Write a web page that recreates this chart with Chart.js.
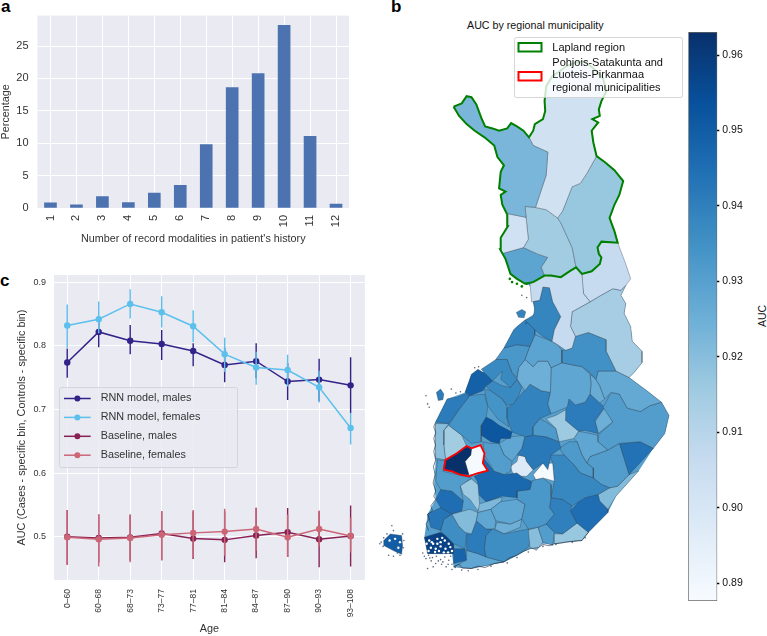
<!DOCTYPE html>
<html>
<head>
<meta charset="utf-8">
<script src="https://cdn.jsdelivr.net/npm/chart.js"></script>
<style>
body { margin: 0; background: #fff; width: 767px; height: 636px; overflow: hidden; position: relative; font-family: "Liberation Sans", Arial, sans-serif; color: #111; }
canvas { position: absolute; }
.panel { position: absolute; font-weight: bold; font-size: 17px; line-height: 20px; color: #000; }
.maptitle { position: absolute; left: 467px; top: 19px; font-size: 10.7px; line-height: 12px; white-space: nowrap; }
.cbtitle { position: absolute; left: 742px; top: 310px; width: 40px; text-align: center; font-size: 10.5px; line-height: 12px; transform: rotate(-90deg); }
</style>
</head>
<body>
<div class="panel" style="left:1px;top:-3px">a</div>
<div class="panel" style="left:391px;top:-3px">b</div>
<div class="panel" style="left:0;top:271px">c</div>
<div class="maptitle">AUC by regional municipality</div>
<div class="cbtitle">AUC</div>
<canvas id="barChart" width="360" height="246" style="left:0;top:0"></canvas>
<canvas id="ageChart" width="370" height="376" style="left:0;top:260px"></canvas>
<canvas id="mapChart" width="316" height="636" style="left:370px;top:0"></canvas>
<canvas id="cbChart" width="87" height="636" style="left:680px;top:0"></canvas>
<script>
// panel a
const modalities = ['1', '2', '3', '4', '5', '6', '7', '8', '9', '10', '11', '12'];
const percentages = [0.8, 0.5, 1.76, 0.83, 2.3, 3.5, 9.8, 18.6, 20.75, 28.2, 11.05, 0.6];

// panel c
const ageBins = ['0–60', '60–68', '68–73', '73–77', '77–81', '81–84', '84–87', '87–90', '90–93', '93–108'];
const rnnMales = [0.774, 0.822, 0.808, 0.803, 0.792, 0.770, 0.776, 0.744, 0.747, 0.738];
const rnnMalesLow = [0.750, 0.798, 0.787, 0.778, 0.768, 0.743, 0.749, 0.715, 0.713, 0.694];
const rnnMalesHigh = [0.796, 0.846, 0.833, 0.825, 0.804, 0.797, 0.804, 0.773, 0.780, 0.782];
const rnnFemales = [0.832, 0.842, 0.866, 0.853, 0.831, 0.787, 0.766, 0.762, 0.735, 0.671];
const rnnFemalesLow = [0.797, 0.820, 0.843, 0.829, 0.806, 0.759, 0.739, 0.736, 0.711, 0.645];
const rnnFemalesHigh = [0.865, 0.870, 0.889, 0.878, 0.856, 0.813, 0.791, 0.786, 0.761, 0.695];
const baseMales = [0.500, 0.498, 0.499, 0.505, 0.497, 0.495, 0.502, 0.507, 0.496, 0.501];
const baseMalesLow = [0.456, 0.460, 0.462, 0.463, 0.465, 0.460, 0.466, 0.468, 0.452, 0.453];
const baseMalesHigh = [0.542, 0.535, 0.535, 0.540, 0.540, 0.540, 0.545, 0.545, 0.540, 0.549];
const baseFemales = [0.499, 0.496, 0.498, 0.503, 0.506, 0.508, 0.512, 0.499, 0.512, 0.501];
const baseFemalesLow = [0.456, 0.453, 0.460, 0.463, 0.466, 0.470, 0.478, 0.468, 0.485, 0.475];
const baseFemalesHigh = [0.542, 0.535, 0.534, 0.540, 0.542, 0.544, 0.546, 0.535, 0.541, 0.530];

// panel b, colour scale
const blues = ['#f7fbff', '#deebf7', '#c6dbef', '#9ecae1', '#6baed6', '#4292c6', '#2171b5', '#08519c', '#08306b'];
const aucMin = 0.88766, aucMax = 0.96305;
const aucTicks = [0.89, 0.90, 0.91, 0.92, 0.93, 0.94, 0.95, 0.96];

// panel b, map units, northern part
const laplandAuc = [0.9225, 0.9025, 0.917, 0.903, 0.915, 0.9285];
const laplandShapes = [
  [477,405,490,430,535,450,530,520,497,618,465,615,468,648,412,637,395,610,390,580,405,570,385,560,390,510,400,490,380,465,370,430,340,405,310,385,285,365,262,340,245,312,270,302,285,280,300,283,315,305,330,345,342,372,365,378,385,385,410,378,422,362,440,372,460,385],
  [477,405,490,385,495,365,520,350,527,325,525,295,530,250,548,220,570,205,590,190,620,178,650,175,680,200,705,225,715,265,700,295,692,320,695,340,672,350,690,360,670,385,675,420,685,462,655,515,635,545,610,555,580,630,565,650,530,625,497,618,530,520,535,450,490,430],
  [685,462,710,480,740,505,767,538,755,580,740,610,725,650,740,690,750,725,700,722,688,740,692,760,700,770,695,790,670,812,640,820,622,800,610,740,575,665,565,650,580,630,610,555,635,545,655,515],
  [412,637,468,648,475,715,460,740,395,758,388,745,390,710,412,675],
  [465,615,497,618,530,625,565,650,575,665,610,740,622,800,605,810,575,830,545,825,525,825,515,800,535,770,505,760,460,740,475,715,468,648],
  [395,758,460,740,505,760,535,770,515,800,525,825,490,845,465,850,440,835,420,820,405,775]
];
const laplandOutline = [245,312,270,302,285,280,300,283,315,305,330,345,342,372,365,378,385,385,410,378,422,362,440,372,460,385,477,405,490,385,495,365,520,350,527,325,525,295,530,250,548,220,570,205,590,190,620,178,650,175,680,200,705,225,715,265,700,295,692,320,695,340,672,350,690,360,670,385,675,420,685,462,710,480,740,505,767,538,755,580,740,610,725,650,740,690,750,725,700,722,688,740,692,760,700,770,695,790,670,812,640,820,622,800,605,810,575,830,545,825,525,825,490,845,465,850,440,835,420,820,405,775,388,745,390,710,412,675,410,640,395,610,390,580,405,570,385,560,390,510,400,490,380,465,370,430,340,405,310,385,285,365,262,340,245,312];
const laplandShift = -840;
const laplandCoastDots = [418,835,425,845,440,850,455,858,470,850];

// panel b, map units, southern part
const southAuc = [
  0.9065, 0.9065, 0.9385, 0.914, 0.939, 0.929, 0.935, 0.933, 0.937, 0.949,
  0.937, 0.925, 0.928, 0.927, 0.926, 0.931, 0.941, 0.925, 0.916, 0.932,
  0.939, 0.934, 0.934, 0.952, 0.941, 0.920, 0.915, 0.963, 0.8885, 0.931,
  0.916, 0.947, 0.931, 0.928, 0.942, 0.898, 0.8885, 0.938, 0.932, 0.928,
  0.931, 0.944, 0.921, 0.945, 0.933, 0.940, 0.917, 0.931, 0.920, 0.936,
  0.928, 0.925, 0.928, 0.922, 0.921, 0.945, 0.943, 0.936, 0.941, 0.928, 0.948,
  0.939, 0.941, 0.950, 0.958
];
const southShapes = [
  [480,10,525,-15,575,-10,605,-30,622,-40,640,-20,645,40,665,65,610,95,605,140,620,170,610,205,590,212,565,195,548,185,555,150,575,110,550,65,540,22,520,20,510,60,485,65],
  [670,-28,695,-50,700,-70,688,-100,700,-118,750,-115,775,-50,790,-5,775,15,760,30,735,25,690,50,665,65,645,40,640,0,640,-20],
  [520,20,540,22,550,65,575,105,555,150,548,185,520,170,495,150,465,120,490,110,495,85,490,65,510,60],
  [665,65,690,50,735,25,760,30,775,15,760,45,775,70,770,100,790,140,795,185,825,215,825,250,800,280,785,295,745,275,715,215,715,180,660,158,620,170,605,140,610,95],
  [440,140,465,120,495,150,495,165,480,200,440,195,400,205,430,150],
  [495,165,548,185,565,195,578,212,578,250,545,265,535,245,505,245,490,262,465,240,480,200],
  [578,212,590,212,610,205,620,170,660,158,715,180,715,215,745,275,690,275,683,300,665,280,640,262,578,250],
  [400,205,440,195,480,200,465,240,445,265,440,295,425,280,410,240,375,240],
  [330,270,375,240,410,240,425,280,440,300,420,325,390,300,395,275,365,305,345,285],
  [280,340,300,285,320,270,345,285,365,305,345,320,335,335,295,350],
  [365,305,395,320,420,325,440,300,455,325,445,350,430,375,410,380,395,360,360,335,345,322],
  [445,265,465,240,490,262,505,245,535,245,545,265,543,340,515,335,480,315,465,335,440,300],
  [545,265,578,250,640,262,665,285,668,315,665,345,650,370,620,378,600,360,595,385,570,395,545,405,535,375,543,340],
  [683,300,690,275,745,275,785,295,840,335,885,370,850,380,820,398,780,388,755,345,730,340,710,360,695,320],
  [683,300,695,320,710,360,695,372,665,345,668,315,665,285],
  [885,370,908,410,895,465,860,510,820,490,755,495,720,515,690,490,690,470,735,430,705,385,730,340,755,345,780,388,820,398,850,380],
  [600,360,620,378,650,370,665,345,695,372,710,385,680,425,690,465,650,455,630,458,590,425,590,395],
  [710,385,735,430,715,445,690,465,680,430],
  [530,420,560,410,595,390,590,425,630,458,615,480,570,490,560,450],
  [490,445,510,420,530,430,560,450,570,490,530,475,490,470],
  [410,390,440,360,480,315,515,335,543,340,535,375,545,405,510,420,490,445,490,470,465,475,425,460,410,420],
  [260,395,295,350,340,345,350,385,345,415,330,440,330,490,300,495,270,470,230,440],
  [340,330,360,335,395,360,410,385,410,420,415,445,380,420,350,380],
  [345,415,365,425,385,440,425,460,420,480,390,480,385,495,360,490,330,470,330,440],
  [190,430,215,380,225,360,255,355,280,345,295,350,260,395,230,435],
  [190,435,230,435,215,455,215,500,220,545,190,540,188,480],
  [215,455,230,440,270,470,285,503,255,525,220,545,215,500],
  [215,575,220,545,255,525,285,503,300,510,298,530,280,550,292,590,265,590,240,580],
  [300,510,328,500,340,525,335,555,350,578,320,585,292,592,280,550,298,530],
  [195,545,218,548,212,580,265,592,300,600,265,625,275,670,240,640,205,635,190,610],
  [265,622,300,603,320,620,325,680,320,700,295,665,275,650],
  [338,540,370,580,400,590,440,585,460,600,485,610,480,635,440,640,440,660,395,655,345,672,322,650,318,610,308,595,350,578,338,555],
  [335,490,360,495,385,495,400,530,425,550,420,580,400,590,370,580,340,530],
  [385,495,420,475,465,470,455,510,440,530,425,550,400,530],
  [465,475,490,470,530,475,570,490,575,510,545,530,535,575,520,555,490,575,470,550,465,535,440,530,455,510],
  [420,565,440,550,445,530,465,535,470,550,490,575,470,595,445,595,440,608,425,580],
  [490,590,520,555,550,555,555,610,520,600,498,605],
  [540,530,585,530,615,560,635,585,675,600,700,620,725,630,690,650,650,660,610,685,580,665,545,660,555,610,550,555],
  [570,510,600,490,625,490,640,530,655,555,675,570,675,600,635,585,615,560,585,530],
  [630,458,690,470,690,490,720,515,665,535,655,555,640,530,625,490,615,480],
  [665,535,720,515,755,495,785,590,750,625,725,630,700,620,675,600,675,570,655,555],
  [755,495,820,490,860,510,785,590],
  [690,650,725,630,750,625,785,590,815,578,745,655,720,695,695,670],
  [605,700,640,660,690,650,695,670,720,695,720,705,660,765,625,737],
  [440,640,480,635,487,608,498,605,520,600,545,620,545,660,540,690,555,710,530,740,505,750,475,755,455,725,465,680,440,665],
  [545,660,580,665,610,685,605,700,625,737,580,770,555,765,530,740,555,710,540,690],
  [555,770,580,770,625,737,660,765,640,790,590,795,555,800],
  [505,750,530,740,555,765,550,805,520,795],
  [475,758,505,750,520,795,500,820,480,810],
  [345,775,365,755,400,770,475,755,485,780,475,810,440,835,400,855,345,840,340,815],
  [360,695,390,672,440,665,465,680,455,725,420,740,375,730],
  [378,735,420,740,455,725,450,750,400,770,372,755],
  [320,705,360,695,375,730,372,755,345,755,315,730],
  [322,680,345,672,395,658,390,672,360,695,320,705],
  [240,710,295,695,320,705,315,730,300,770,280,765,260,745],
  [190,665,205,635,240,640,275,670,270,700,240,710,205,690],
  [165,710,205,690,240,710,215,725,205,760,175,750],
  [205,760,215,725,240,710,260,745,285,770,280,815,245,800,225,780],
  [285,770,300,770,315,730,345,755,365,755,345,775,340,815,345,840,320,830,285,820],
  [285,820,320,830,345,840,400,855,300,875,245,870,285,850],
  [245,815,280,815,285,850,245,860],
  [438,97,455,88,467,95,462,113,445,112],
  [192,340,205,330,215,345,212,362,198,365],
  [30,790,50,770,85,775,88,805,85,832,62,822,30,805],
  [155,780,205,765,245,790,245,830,165,830]
];
const southOutline = [470,10,660,-30,770,0,775,15,760,45,775,70,770,100,790,140,795,185,825,215,825,250,800,280,785,295,840,335,885,370,908,410,895,465,860,510,815,578,745,655,720,705,660,765,640,790,590,795,555,800,520,800,480,815,440,835,400,855,300,875,245,870,240,830,165,830,155,780,165,710,190,665,185,620,190,545,188,480,190,430,215,380,225,360,280,340,300,285,345,275,375,240,400,205,430,150,465,120,495,100,490,65,485,20];
const redOutline = [215,575,220,545,255,525,285,503,300,510,328,500,340,525,335,555,350,578,320,585,292,595,265,590,240,580,215,575];
const westCoast = [190,430,184,445,190,462,184,480,189,500,184,520,190,545,183,565,188,590,182,615,190,640,184,655,190,665,175,685,180,700,165,710,170,725,160,740,168,760];
const southCoast = [245,870,262,862,272,874,300,875,320,868,342,872,370,860,400,855,418,842,440,835,462,822,480,815,505,812,520,802,540,806,555,800,575,798,590,795,615,792,640,790,652,775,660,765];
const islandDots = [
  168,835,180,842,192,838,205,848,218,840,230,850,240,862,250,872,176,852,190,860,208,862,222,870,165,875,236,838,150,828,160,845,
  198,852,212,855,228,862,182,870,155,838,240,878,172,843,
  160,350,165,375,170,385,238,330,252,342,266,338,310,265,322,262,455,45,470,52,468,130,
  270,880,290,882,320,878,360,868,410,858,440,842,475,825,520,808,560,802,610,795,650,782,
  22,795,40,770,60,760,88,770,92,790,18,800,60,838,80,835,55,745,45,835,30,782,28,808,90,812,72,828
];
// white gaps between the islands of the south-west archipelago and Aland
const archipelagoGaps = [
  75,812,48,790,65,785,80,795,
  170,790,182,800,195,785,205,795,218,790,230,800,175,812,190,815,205,808,220,815,235,810,
  162,800,188,825,200,822,215,826,228,826,178,795,210,782,240,822,195,800,168,822
];

function colorFor(v) {
  const t = Math.max(0, Math.min(1, (v - aucMin) / (aucMax - aucMin))) * (blues.length - 1);
  const i = Math.min(blues.length - 2, Math.floor(t));
  const a = parseInt(blues[i].slice(1), 16), b = parseInt(blues[i + 1].slice(1), 16);
  const f = t - i;
  const mix = (s) => Math.round(((a >> s) & 255) * (1 - f) + ((b >> s) & 255) * f);
  return 'rgb(' + mix(16) + ',' + mix(8) + ',' + mix(0) + ')';
}

function toPoints(flat, dy) {
  const pts = [];
  for (let i = 0; i < flat.length; i += 2) pts.push({ x: flat[i], y: flat[i + 1] + dy });
  return pts;
}

function closed(flat, dy) {
  const pts = toPoints(flat, dy);
  pts.push(pts[0]);
  return pts;
}

function regionDataset(flat, dy, auc) {
  return {
    data: closed(flat, dy), showLine: true, fill: 'shape', backgroundColor: colorFor(auc),
    borderColor: 'rgba(50,60,70,0.6)', borderWidth: 0.6, pointRadius: 0, tension: 0, order: 3
  };
}

// grey plot background used by panels a and c
const plotBackground = {
  id: 'plotBackground',
  beforeDraw(chart) {
    const a = chart.chartArea, c = chart.ctx;
    c.save();
    c.fillStyle = '#eaeaf2';
    c.fillRect(a.left, a.top, a.right - a.left, a.bottom - a.top);
    c.restore();
  }
};

const sans = '"Liberation Sans", Arial, sans-serif';
const textGrey = '#333';

new Chart(document.getElementById('barChart'), {
  type: 'bar',
  data: { labels: modalities, datasets: [{ data: percentages, backgroundColor: '#4c72b0', barThickness: 12 }] },
  options: {
    responsive: false, animation: false,
    layout: { padding: { top: 5, right: 11 } },
    plugins: { legend: { display: false }, tooltip: { enabled: false } },
    scales: {
      x: {
        grid: { color: '#fff', lineWidth: 1, offset: false, drawTicks: false },
        border: { display: false },
        ticks: { color: textGrey, font: { family: sans, size: 11 }, minRotation: 90, maxRotation: 90, autoSkip: false, padding: 7 },
        title: { display: true, text: "Number of record modalities in patient's history", color: textGrey, font: { family: sans, size: 10.8 }, padding: { top: 1, bottom: 0 } },
        afterFit(s) { s.height = 38; }
      },
      y: {
        min: 0, max: 29.7,
        grid: { color: '#fff', lineWidth: 1, drawTicks: false },
        border: { display: false },
        ticks: { color: textGrey, font: { family: sans, size: 11 }, stepSize: 5, includeBounds: false, padding: 9 },
        title: { display: true, text: 'Percentage', color: textGrey, font: { family: sans, size: 10.8 }, padding: { top: 0, bottom: 0 } },
        afterFit(s) { s.width = 37.5; }
      }
    }
  },
  plugins: [plotBackground]
});

// error bars are one broken line per series
function errorData(low, high) {
  const pts = [];
  for (let i = 0; i < low.length; i++) {
    pts.push({ x: i, y: low[i] }, { x: i, y: high[i] }, { x: i, y: null });
  }
  return pts;
}

const ageSeries = [
  { label: 'RNN model, males', color: '#332288', values: rnnMales, low: rnnMalesLow, high: rnnMalesHigh },
  { label: 'RNN model, females', color: '#5cc0ec', values: rnnFemales, low: rnnFemalesLow, high: rnnFemalesHigh },
  { label: 'Baseline, males', color: '#882255', values: baseMales, low: baseMalesLow, high: baseMalesHigh },
  { label: 'Baseline, females', color: '#cc6677', values: baseFemales, low: baseFemalesLow, high: baseFemalesHigh }
];

const ageDatasets = [];
ageSeries.forEach((s, k) => {
  ageDatasets.push({
    data: s.values.map((v, i) => ({ x: i, y: v })), showLine: true, borderColor: s.color, backgroundColor: s.color,
    borderWidth: 1.5, pointRadius: 3.2, pointBorderWidth: 0, tension: 0, order: 8 - 2 * k
  });
  ageDatasets.push({
    data: errorData(s.low, s.high), showLine: true, borderColor: s.color, borderWidth: 1.4,
    pointRadius: 0, spanGaps: false, tension: 0, order: 9 - 2 * k
  });
});

const ageLegend = {
  id: 'ageLegend',
  afterDatasetsDraw(chart) {
    const c = chart.ctx;
    c.save();
    c.beginPath();
    c.roundRect(59.5, 127.5, 178, 80, 2);
    c.fillStyle = 'rgba(234,234,242,0.8)';
    c.fill();
    c.strokeStyle = '#d4d4dc';
    c.lineWidth = 1;
    c.stroke();
    c.textBaseline = 'middle';
    c.font = '10.8px ' + sans;
    ageSeries.forEach((s, k) => {
      const y = 138.5 + k * 18.9;
      c.strokeStyle = s.color;
      c.fillStyle = s.color;
      c.lineWidth = 1.5;
      c.beginPath();
      c.moveTo(64, y);
      c.lineTo(90.7, y);
      c.stroke();
      c.beginPath();
      c.arc(77.4, y, 3, 0, Math.PI * 2);
      c.fill();
      c.fillStyle = textGrey;
      c.fillText(s.label, 100.7, y);
    });
    c.restore();
  }
};

new Chart(document.getElementById('ageChart'), {
  type: 'scatter',
  data: { datasets: ageDatasets },
  options: {
    responsive: false, animation: false,
    layout: { padding: { top: 15, right: 3 } },
    plugins: { legend: { display: false }, tooltip: { enabled: false } },
    scales: {
      x: {
        type: 'linear', min: -0.42, max: 9.454,
        grid: { color: '#fff', lineWidth: 1, drawTicks: false },
        border: { display: false },
        ticks: {
          color: textGrey, font: { family: sans, size: 8.5 }, stepSize: 1, includeBounds: false,
          minRotation: 90, maxRotation: 90, autoSkip: false, padding: 9,
          callback: (v) => ageBins[v]
        },
        title: { display: true, text: 'Age', color: textGrey, font: { family: sans, size: 10.8 }, padding: { top: 0, bottom: 0 } },
        afterFit(s) { s.height = 56; }
      },
      y: {
        min: 0.4319, max: 0.9115,
        grid: { color: '#fff', lineWidth: 1, drawTicks: false },
        border: { display: false },
        ticks: { color: textGrey, font: { family: sans, size: 9 }, stepSize: 0.1, includeBounds: false, padding: 8, callback: (v) => v.toFixed(1) },
        title: { display: true, text: 'AUC (Cases - specific bin, Controls - specific bin)', color: textGrey, font: { family: sans, size: 10.8 }, padding: { top: 15.7, bottom: 0 } },
        afterFit(s) { s.width = 54; }
      }
    }
  },
  plugins: [plotBackground, ageLegend]
});

const mapDatasets = [
  { data: closed(laplandOutline, laplandShift), showLine: true, borderColor: '#008000', borderWidth: 2, pointRadius: 0, tension: 0, order: 0 },
  { data: toPoints(laplandCoastDots, laplandShift), backgroundColor: '#008000', pointRadius: 1.3, pointBorderWidth: 0, order: 0 },
  { data: closed(redOutline, 0), showLine: true, borderColor: '#ff0000', borderWidth: 1.8, pointRadius: 0, tension: 0, order: 1 },
  { data: toPoints(westCoast, 0), showLine: true, borderColor: 'rgba(30,45,65,0.6)', borderWidth: 1, pointRadius: 0, tension: 0, order: 2 },
  { data: toPoints(southCoast, 0), showLine: true, borderColor: 'rgba(30,45,65,0.6)', borderWidth: 1, pointRadius: 0, tension: 0, order: 2 },
  { data: toPoints(archipelagoGaps, 0), backgroundColor: '#ffffff', pointRadius: 1.2, pointBorderWidth: 0, order: 2 },
  { data: toPoints(islandDots, 0), backgroundColor: 'rgba(30,50,75,0.75)', pointRadius: 0.8, pointBorderWidth: 0, order: 2 }
];
laplandShapes.forEach((shape, i) => mapDatasets.push(regionDataset(shape, laplandShift, laplandAuc[i])));
southShapes.forEach((shape, i) => mapDatasets.push(regionDataset(shape, 0, southAuc[i])));
mapDatasets.push({ data: closed(southOutline, 0), showLine: true, fill: 'shape', backgroundColor: colorFor(0.93), borderWidth: 0, pointRadius: 0, tension: 0, order: 4 });

const mapLegend = {
  id: 'mapLegend',
  afterDatasetsDraw(chart) {
    const c = chart.ctx;
    c.save();
    c.beginPath();
    c.roundRect(144.5, 37.5, 168, 60, 2);
    c.fillStyle = 'rgba(255,255,255,0.8)';
    c.fill();
    c.strokeStyle = 'rgba(204,204,204,0.8)';
    c.lineWidth = 1;
    c.stroke();
    c.lineWidth = 2;
    c.strokeStyle = '#008000';
    c.strokeRect(148.5, 43, 23, 8.5);
    c.strokeStyle = '#ff0000';
    c.strokeRect(148.5, 72, 23, 8.5);
    c.fillStyle = '#111';
    c.font = '11px ' + sans;
    c.textBaseline = 'middle';
    c.fillText('Lapland region', 182.3, 47.5);
    c.fillText('Pohjois-Satakunta and', 182.3, 63);
    c.fillText('Luoteis-Pirkanmaa', 182.3, 75.3);
    c.fillText('regional municipalities', 182.3, 87.6);
    c.restore();
  }
};

new Chart(document.getElementById('mapChart'), {
  type: 'scatter',
  data: { datasets: mapDatasets },
  options: {
    responsive: false, animation: false,
    plugins: { legend: { display: false }, tooltip: { enabled: false } },
    scales: {
      x: { display: false, min: 0, max: 948 },
      y: { display: false, min: -840, max: 1068, reverse: true }
    }
  },
  plugins: [mapLegend]
});

new Chart(document.getElementById('cbChart'), {
  type: 'bar',
  data: {
    labels: ['AUC'],
    datasets: [{
      data: [[aucMin, aucMax]], barPercentage: 1, categoryPercentage: 1, borderWidth: 1, borderColor: '#666', borderSkipped: false,
      backgroundColor(ctx) {
        const y = ctx.chart.scales.y;
        if (!ctx.chart.chartArea || !y) return blues[4];
        const g = ctx.chart.ctx.createLinearGradient(0, y.getPixelForValue(aucMin), 0, y.getPixelForValue(aucMax));
        blues.forEach((col, i) => g.addColorStop(i / (blues.length - 1), col));
        return g;
      }
    }]
  },
  options: {
    responsive: false, animation: false,
    layout: { padding: { left: 8.3, top: 32, bottom: 35 } },
    plugins: { legend: { display: false }, tooltip: { enabled: false } },
    scales: {
      x: { display: false },
      y: {
        position: 'right', min: aucMin, max: aucMax,
        grid: { drawOnChartArea: false, color: '#000', tickLength: 2, tickWidth: 1.5 },
        border: { display: false },
        ticks: {
          color: '#111', font: { family: sans, size: 10.5 }, padding: 3, stepSize: 0.01, includeBounds: false,
          callback: (v) => aucTicks.some((t) => Math.abs(t - v) < 1e-6) ? v.toFixed(2) : ''
        },
        afterFit(s) { s.width = 49.7; }
      }
    }
  }
});
</script>
</body>
</html>
